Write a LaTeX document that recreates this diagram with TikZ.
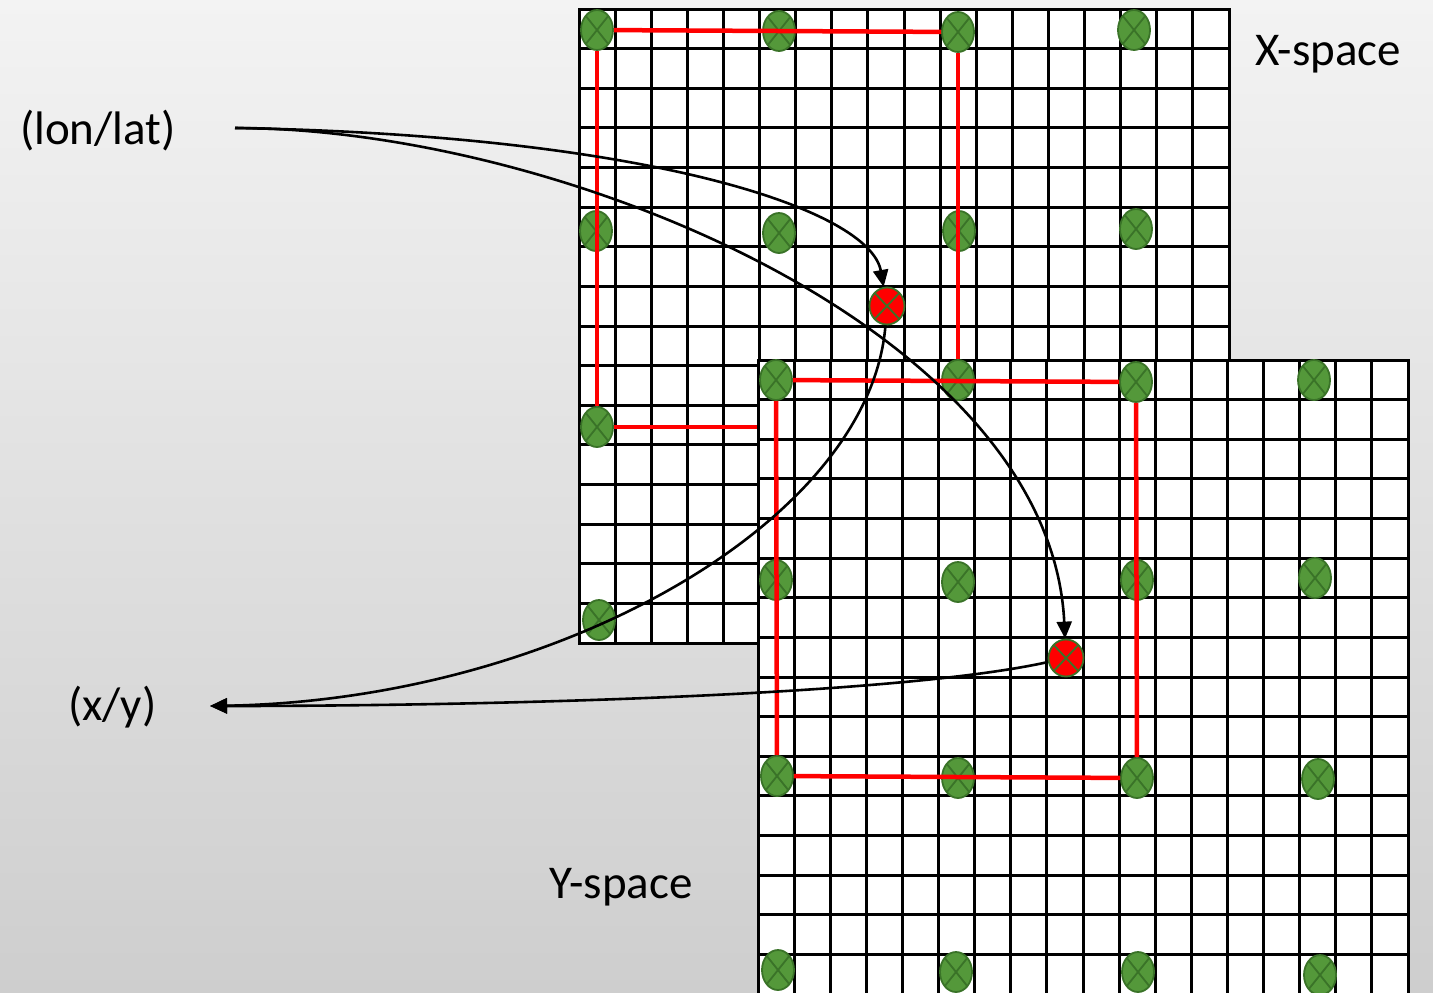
\documentclass[tikz,border=0pt]{standalone}
\usepackage{fontspec}
\setmainfont{Carlito}
\usetikzlibrary{shapes.geometric,arrows.meta}
\definecolor{dotgreen}{RGB}{84,152,58}
\definecolor{dotedge}{RGB}{58,115,40}
\definecolor{bgtop}{RGB}{243,243,243}
\definecolor{bgbot}{RGB}{206,206,206}
\tikzset{
 gridline/.style={line width=3pt, black, line cap=rect},
 gdot/.style={ellipse, draw=dotedge, fill=dotgreen, line width=1.8pt, minimum width=32pt, minimum height=40pt, inner sep=0pt,
   path picture={\draw[dotedge, line width=1.8pt] (path picture bounding box.north west) -- (path picture bounding box.south east) (path picture bounding box.north east) -- (path picture bounding box.south west);}},
 rdot/.style={gdot, fill=red, minimum width=35pt, minimum height=37pt},
 redline/.style={red, line width=4.5pt},
 curve/.style={black, line width=2.6pt},
 arr/.style={curve, -{Triangle[length=17pt,width=15pt]}},
 lbl/.style={font=\fontsize{47}{56}\selectfont, inner sep=0pt, anchor=base west},
}
\begin{document}
\begin{tikzpicture}[x=1pt,y=-1pt]
\useasboundingbox (0,0) rectangle (1433,993);
\fill[top color=bgtop, bottom color=bgbot] (0,0) rectangle (1433,993);

% X-space grid
\fill[white] (579,9) rectangle (1229,643);
\foreach \i in {0,...,18} \draw[gridline] ({579+\i*650/18},9) -- ({579+\i*650/18},643);
\foreach \j in {0,...,16} \draw[gridline] (579,{9+\j*634/16}) -- (1229,{9+\j*634/16});

% X-space dots
\node[gdot] (x00) at (597,30) {};
\node[gdot] (x50) at (779,31) {};
\node[gdot] (x100) at (958,32) {};
\node[gdot] (x150) at (1134,30) {};
\node[gdot] (x05) at (596,231) {};
\node[gdot] (x55) at (779,233) {};
\node[gdot] (x105) at (959,231) {};
\node[gdot] (x155) at (1136,229) {};
\node[gdot] (x010) at (597,427) {};
\node[gdot] (x015) at (599,620) {};
\coordinate (x1010) at (958,427);

% X-space red frame
\draw[redline] (x00) -- (x100);
\draw[redline] (x00) -- (x010);
\draw[redline] (x100) -- (x1010);
\draw[redline] (x010) -- (x1010);

% Y-space grid
\fill[white] (758,360) rectangle (1408,994);
\foreach \i in {0,...,18} \draw[gridline] ({758+\i*650/18},360) -- ({758+\i*650/18},994);
\foreach \j in {0,...,16} \draw[gridline] (758,{360+\j*634/16}) -- (1408,{360+\j*634/16});

% Y-space dots
\node[gdot] (y00) at (776,380) {};
\node[gdot] (y50) at (958,380) {};
\node[gdot] (y100) at (1136,382) {};
\node[gdot] (y150) at (1314,380) {};
\node[gdot] (y05) at (776,580) {};
\node[gdot] (y55) at (958,582) {};
\node[gdot] (y105) at (1137,580) {};
\node[gdot] (y155) at (1315,578) {};
\node[gdot] (y010) at (777,776) {};
\node[gdot] (y510) at (958,778) {};
\node[gdot] (y1010) at (1137,778) {};
\node[gdot] (y1510) at (1318,779) {};
\node[gdot] (y015) at (778,970) {};
\node[gdot] (y515) at (956,972) {};
\node[gdot] (y1015) at (1138,972) {};
\node[gdot] (y1515) at (1320,975) {};

% Y-space red frame
\draw[redline] (y00) -- (y100);
\draw[redline] (y00) -- (y010);
\draw[redline] (y100) -- (y1010);
\draw[redline] (y010) -- (y1010);

% interpolation points
\node[rdot] (rx) at (887,306) {};
\node[rdot] (ry) at (1066,658) {};

% labels
\node[lbl] (lonlat) at (20,144) {(lon/lat)};
\node[lbl] (xy) at (68,720) {(x/y)};
\node[lbl] (xsp) at (1255,65) {X-space};
\node[lbl] (ysp) at (549,898) {Y-space};

% curves
\coordinate (ls) at (235,128);
\coordinate (xt) at (210,706);
\draw[arr] (ls) .. controls (650,135) and (870,210) .. (rx);
\draw[arr] (ls) .. controls (560,128) and (1050,330) .. (ry);
\draw[arr] (rx) .. controls (870,520) and (560,700) .. (xt);
\draw[arr] (ry) .. controls (900,695) and (500,706) .. (xt);
\end{tikzpicture}
\end{document}
